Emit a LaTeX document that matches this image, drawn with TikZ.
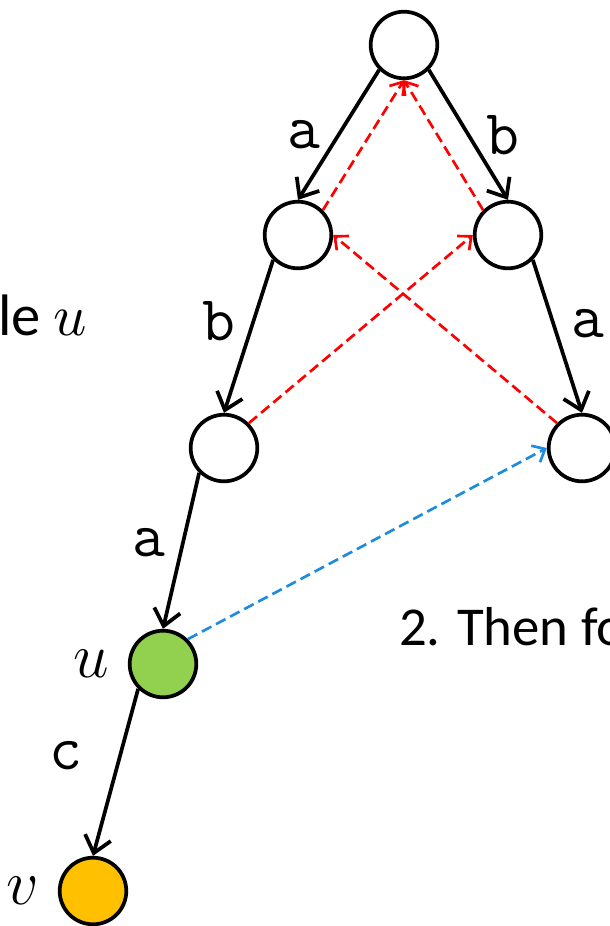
\documentclass[tikz,border=0pt]{standalone}
\usepackage{fontspec}
\setmainfont{Carlito}
\usetikzlibrary{arrows.meta}
\definecolor{fillu}{HTML}{92D050}
\definecolor{fillv}{HTML}{FFC000}
\definecolor{linkblue}{RGB}{30,140,220}
\begin{document}
\begin{tikzpicture}[x=0.0066cm, y=-0.0066cm,
  state/.style={circle, draw, line width=0.7pt, minimum size=0.44cm, inner sep=0pt},
  trans/.style={-{Straight Barb[length=3pt,width=5pt]}, line width=0.7pt},
  fail/.style={-{Straight Barb[length=2pt,width=3.5pt]}, color=red, line width=0.5pt, dash pattern=on 2pt off 1pt},
  dict/.style={fail, color=linkblue},
  sym/.style={font=\fontsize{12}{14}\ttfamily, inner sep=3pt},
  every label/.style={font=\fontsize{12}{14}\selectfont},
  note/.style={anchor=base west, inner sep=0pt, font=\fontsize{10.3}{12}\selectfont}]
  \clip (0,0) rectangle (610,926);

  % trie states
  \node[state] (r) at (404,45) {};
  \node[state] (a) at (298,235) {};
  \node[state] (b) at (508,235) {};
  \node[state] (ab) at (224,448) {};
  \node[state] (ba) at (582,448) {};
  \node[state, fill=fillu, label=left:$u$] (u) at (163,664) {};
  \node[state, fill=fillv, label=left:$v$] (v) at (93,891) {};

  % goto edges
  \draw[trans] (r.south west) -- (a.north) node[sym, midway, left] {a};
  \draw[trans] (r.south east) -- (b.north) node[sym, midway, right] {b};
  \draw[trans] (a.south west) -- (ab.north) node[sym, pos=0.4, left] {b};
  \draw[trans] (b.south east) -- (ba.north) node[sym, pos=0.42, right] {a};
  \draw[trans] (ab.south west) -- (u.north) node[sym, pos=0.45, left] {a};
  \draw[trans] (u.south west) -- (v.north) node[sym, pos=0.4, left=3.7pt] {c};

  % failure links
  \draw[fail] (a.north east) -- (r.south);
  \draw[fail] (b.north west) -- (r.south);
  \draw[fail] (ab.north east) -- (b.west);
  \draw[fail] (ba.north west) -- (a.east);
  \draw[dict] (u.north east) -- (ba.west);

  % cut-off captions
  \node[note] (left) at (-3,335) {\fontsize{11}{13}\selectfont le $u$};
  \node[note] (right) at (398,645) {2. Then fo};
\end{tikzpicture}
\end{document}
